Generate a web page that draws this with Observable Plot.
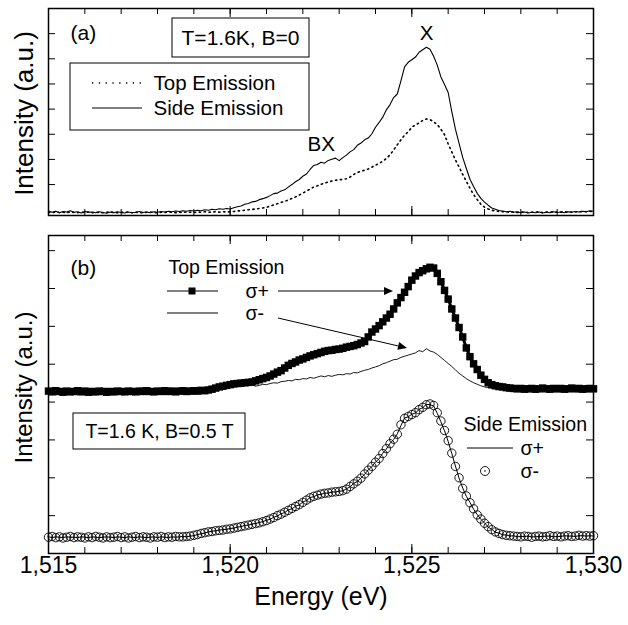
<!DOCTYPE html>
<html><head><meta charset="utf-8">
<script src="https://cdn.jsdelivr.net/npm/d3@7"></script>
<script src="https://cdn.jsdelivr.net/npm/@observablehq/plot@0.6"></script>
<style>body{margin:0;background:#fff;overflow:hidden} #chart svg{display:block}</style>
</head><body><div id="chart"></div>
<script>
// Energy grid (eV), shared by all spectra
const energy = [
1.5150,1.5151,1.5152,1.5153,1.5154,1.5155,1.5156,1.5157,1.5158,1.5159,
1.5160,1.5161,1.5162,1.5163,1.5164,1.5165,1.5166,1.5167,1.5168,1.5169,
1.5170,1.5171,1.5172,1.5173,1.5174,1.5175,1.5176,1.5177,1.5178,1.5179,
1.5180,1.5181,1.5182,1.5183,1.5184,1.5185,1.5186,1.5187,1.5188,1.5189,
1.5190,1.5191,1.5192,1.5193,1.5194,1.5195,1.5196,1.5197,1.5198,1.5199,
1.5200,1.5201,1.5202,1.5203,1.5204,1.5205,1.5206,1.5207,1.5208,1.5209,
1.5210,1.5211,1.5212,1.5213,1.5214,1.5215,1.5216,1.5217,1.5218,1.5219,
1.5220,1.5221,1.5222,1.5223,1.5224,1.5225,1.5226,1.5227,1.5228,1.5229,
1.5230,1.5231,1.5232,1.5233,1.5234,1.5235,1.5236,1.5237,1.5238,1.5239,
1.5240,1.5241,1.5242,1.5243,1.5244,1.5245,1.5246,1.5247,1.5248,1.5249,
1.5250,1.5251,1.5252,1.5253,1.5254,1.5255,1.5256,1.5257,1.5258,1.5259,
1.5260,1.5261,1.5262,1.5263,1.5264,1.5265,1.5266,1.5267,1.5268,1.5269,
1.5270,1.5271,1.5272,1.5273,1.5274,1.5275,1.5276,1.5277,1.5278,1.5279,
1.5280,1.5281,1.5282,1.5283,1.5284,1.5285,1.5286,1.5287,1.5288,1.5289,
1.5290,1.5291,1.5292,1.5293,1.5294,1.5295,1.5296,1.5297,1.5298,1.5299,
1.5300];

// Panel (a): B=0
const sideEmissionA = [
-0.05,-0.10,-0.06,-0.12,-0.07,-0.09,-0.04,-0.10,-0.08,-0.13,
-0.07,-0.10,-0.09,-0.12,-0.08,-0.11,-0.14,-0.09,-0.12,-0.08,
-0.11,-0.13,-0.09,-0.12,-0.10,-0.07,-0.11,-0.09,-0.12,-0.08,
-0.10,-0.07,-0.09,-0.06,-0.08,-0.05,-0.07,-0.04,-0.06,-0.03,
-0.05,-0.02,-0.04,0.00,-0.02,0.02,0.00,0.04,0.02,0.05,
0.03,0.08,0.12,0.15,0.22,0.25,0.31,0.33,0.40,0.44,
0.49,0.56,0.64,0.66,0.74,0.79,0.90,1.00,1.11,1.20,
1.33,1.42,1.60,1.76,1.80,1.89,1.85,1.96,2.01,2.05,
1.95,2.07,2.17,2.30,2.39,2.56,2.65,2.78,2.85,3.02,
3.28,3.47,3.68,3.97,4.18,4.46,4.60,5.12,5.68,5.86,
5.96,6.07,6.26,6.36,6.46,6.38,6.10,5.75,5.28,4.98,
4.66,3.90,3.20,2.64,2.08,1.64,1.21,0.92,0.65,0.45,
0.30,0.18,0.07,0.02,-0.03,-0.05,-0.08,-0.06,-0.10,-0.08,
-0.12,-0.09,-0.13,-0.10,-0.12,-0.09,-0.13,-0.10,-0.12,-0.08,
-0.11,-0.09,-0.12,-0.08,-0.10,-0.07,-0.09,-0.06,-0.08,-0.04,
-0.06];
const topEmissionA = [
-0.10,-0.12,-0.09,-0.11,-0.10,-0.12,-0.09,-0.11,-0.12,-0.10,
-0.11,-0.09,-0.12,-0.10,-0.11,-0.12,-0.10,-0.09,-0.11,-0.12,
-0.10,-0.11,-0.09,-0.12,-0.10,-0.11,-0.12,-0.10,-0.09,-0.11,
-0.12,-0.10,-0.11,-0.09,-0.10,-0.12,-0.10,-0.11,-0.09,-0.10,
-0.11,-0.09,-0.10,-0.08,-0.10,-0.09,-0.08,-0.10,-0.08,-0.09,
-0.08,-0.07,-0.05,-0.04,-0.02,0.00,0.01,0.03,0.05,0.07,
0.10,0.14,0.19,0.24,0.29,0.33,0.39,0.45,0.51,0.58,
0.66,0.74,0.82,0.90,0.95,1.01,1.06,1.10,1.14,1.17,
1.19,1.21,1.23,1.30,1.40,1.48,1.53,1.57,1.62,1.69,
1.77,1.84,1.93,2.04,2.18,2.38,2.58,2.78,2.96,3.10,
3.28,3.37,3.45,3.55,3.61,3.58,3.50,3.38,3.20,2.98,
2.62,2.30,1.98,1.70,1.40,1.13,0.85,0.60,0.40,0.22,
0.10,0.03,-0.02,-0.05,-0.07,-0.08,-0.09,-0.10,-0.09,-0.11,
-0.10,-0.09,-0.11,-0.10,-0.09,-0.10,-0.11,-0.09,-0.10,-0.08,
-0.10,-0.09,-0.08,-0.10,-0.09,-0.08,-0.09,-0.07,-0.08,-0.07,
-0.07];

// Panel (b): B=0.5 T
const topSigmaPlus = [
4.29,4.27,4.30,4.28,4.26,4.29,4.27,4.28,4.30,4.27,
4.29,4.26,4.28,4.27,4.29,4.28,4.26,4.28,4.27,4.29,
4.28,4.27,4.29,4.28,4.27,4.29,4.28,4.30,4.28,4.27,
4.29,4.28,4.30,4.28,4.29,4.27,4.29,4.30,4.28,4.29,
4.30,4.29,4.31,4.30,4.32,4.34,4.37,4.40,4.42,4.44,
4.46,4.48,4.49,4.50,4.51,4.52,4.53,4.56,4.59,4.62,
4.65,4.69,4.74,4.79,4.83,4.90,4.97,5.02,5.06,5.11,
5.14,5.18,5.22,5.25,5.28,5.31,5.34,5.36,5.37,5.39,
5.40,5.42,5.45,5.47,5.49,5.52,5.56,5.60,5.72,5.85,
5.93,6.02,6.12,6.22,6.32,6.46,6.62,6.76,6.90,7.05,
7.22,7.33,7.42,7.47,7.52,7.56,7.54,7.40,7.18,6.95,
6.72,6.46,6.22,5.97,5.72,5.43,5.20,5.01,4.86,4.71,
4.60,4.51,4.46,4.43,4.41,4.40,4.38,4.37,4.36,4.35,
4.36,4.34,4.35,4.36,4.34,4.35,4.37,4.35,4.34,4.36,
4.35,4.36,4.34,4.35,4.37,4.35,4.36,4.34,4.35,4.36,
4.35];
const topSigmaMinus = [
4.27,4.29,4.26,4.28,4.30,4.27,4.28,4.26,4.29,4.28,
4.27,4.29,4.28,4.26,4.28,4.30,4.27,4.28,4.29,4.27,
4.28,4.26,4.29,4.28,4.27,4.29,4.28,4.26,4.28,4.29,
4.27,4.28,4.29,4.27,4.28,4.30,4.28,4.27,4.29,4.28,
4.29,4.28,4.30,4.29,4.28,4.30,4.30,4.33,4.35,4.37,
4.38,4.40,4.42,4.41,4.44,4.43,4.45,4.42,4.44,4.47,
4.46,4.49,4.51,4.50,4.54,4.55,4.57,4.56,4.60,4.59,
4.62,4.61,4.65,4.63,4.66,4.69,4.67,4.70,4.68,4.71,
4.73,4.72,4.75,4.74,4.78,4.77,4.81,4.84,4.86,4.90,
4.93,4.96,5.01,5.04,5.08,5.12,5.13,5.18,5.21,5.24,
5.27,5.30,5.36,5.33,5.41,5.35,5.32,5.26,5.18,5.10,
5.02,4.94,4.85,4.76,4.69,4.62,4.56,4.51,4.47,4.43,
4.40,4.38,4.37,4.36,4.35,4.35,4.34,4.36,4.35,4.34,
4.35,4.36,4.34,4.35,4.36,4.35,4.34,4.36,4.35,4.34,
4.36,4.35,4.34,4.35,4.36,4.34,4.35,4.36,4.35,4.34,
4.35];
const sideSigmaPlus = [
0.44,0.42,0.44,0.43,0.42,0.44,0.43,0.43,0.42,0.44,
0.43,0.42,0.44,0.43,0.42,0.43,0.44,0.43,0.42,0.44,
0.43,0.42,0.44,0.43,0.42,0.44,0.43,0.42,0.43,0.44,
0.42,0.44,0.43,0.42,0.44,0.43,0.44,0.45,0.44,0.46,
0.47,0.50,0.52,0.54,0.57,0.59,0.60,0.62,0.63,0.64,
0.66,0.67,0.70,0.71,0.74,0.75,0.78,0.79,0.82,0.84,
0.88,0.90,0.96,0.99,1.05,1.08,1.15,1.18,1.25,1.28,
1.36,1.40,1.48,1.50,1.55,1.56,1.60,1.59,1.63,1.62,
1.65,1.65,1.71,1.76,1.85,1.90,2.00,2.09,2.21,2.29,
2.42,2.50,2.65,2.76,2.91,3.01,3.16,3.38,3.58,3.61,
3.68,3.71,3.81,3.85,3.94,3.93,3.90,3.70,3.48,3.24,
2.96,2.64,2.31,1.99,1.73,1.51,1.35,1.17,1.03,0.90,
0.81,0.70,0.64,0.56,0.54,0.49,0.49,0.46,0.47,0.44,
0.45,0.45,0.46,0.44,0.44,0.45,0.45,0.46,0.46,0.44,
0.45,0.45,0.47,0.46,0.46,0.45,0.47,0.47,0.46,0.47,
0.46];
const sideSigmaMinus = [
0.43,0.45,0.42,0.44,0.41,0.43,0.45,0.42,0.44,0.43,
0.41,0.44,0.42,0.45,0.43,0.41,0.44,0.42,0.43,0.45,
0.42,0.44,0.41,0.43,0.45,0.42,0.44,0.43,0.41,0.44,
0.43,0.45,0.42,0.44,0.43,0.45,0.44,0.44,0.45,0.46,
0.48,0.50,0.53,0.55,0.57,0.58,0.60,0.61,0.62,0.64,
0.65,0.67,0.69,0.71,0.73,0.75,0.77,0.79,0.81,0.84,
0.87,0.91,0.95,1.00,1.04,1.09,1.14,1.19,1.24,1.29,
1.35,1.41,1.47,1.51,1.54,1.57,1.59,1.60,1.62,1.63,
1.64,1.66,1.70,1.77,1.84,1.91,1.99,2.10,2.20,2.30,
2.41,2.51,2.64,2.77,2.90,3.02,3.15,3.40,3.57,3.62,
3.67,3.72,3.80,3.86,3.93,3.95,3.91,3.72,3.50,3.25,
2.98,2.65,2.30,2.00,1.72,1.52,1.34,1.18,1.02,0.91,
0.80,0.71,0.63,0.57,0.53,0.50,0.48,0.47,0.46,0.45,
0.44,0.46,0.45,0.43,0.45,0.46,0.44,0.45,0.47,0.45,
0.46,0.44,0.46,0.47,0.45,0.46,0.48,0.46,0.47,0.46,
0.47];

// Ticks and labels
const xMinorTicks = [1.515,1.516,1.517,1.518,1.519,1.520,1.521,1.522,1.523,1.524,1.525,1.526,1.527,1.528,1.529,1.530];
const xMajorTicks = [1.515,1.520,1.525,1.530];
const xTickLabels = ["1,515","1,520","1,525","1,530"];
const yTicksA = [1,2,3,4,5,6,7];
const yTicksB = [1,2,3,4,5,6,7,8];

const FONT = "'Liberation Sans', Arial, Helvetica, sans-serif";
const W = 628, ML = 48, MR = 35, FW = W - ML - MR;

const rowsA = energy.map((e, i) => ({e, side: sideEmissionA[i], top: topEmissionA[i]}));
const rowsB = energy.map((e, i) => ({e, tp: topSigmaPlus[i], tm: topSigmaMinus[i], sp: sideSigmaPlus[i], sm: sideSigmaMinus[i]}));

function tickMarks(fh, yt) {
  const st = {stroke: "black", strokeWidth: 1};
  return [
    Plot.ruleX(xMinorTicks, {x: d => d, insetTop: fh - 6, ...st}),
    Plot.ruleX(xMinorTicks, {x: d => d, insetBottom: fh - 6, ...st}),
    Plot.ruleX(xMajorTicks, {x: d => d, insetTop: fh - 9, ...st}),
    Plot.ruleX(xMajorTicks, {x: d => d, insetBottom: fh - 9, ...st}),
    Plot.ruleY(yt, {y: d => d, insetRight: FW - 7, ...st}),
    Plot.ruleY(yt, {y: d => d, insetLeft: FW - 7, ...st})
  ];
}
const txt = (s, o) => Plot.text([s], {frameAnchor: "top-left", textAnchor: "start", lineAnchor: "middle", fill: "black", ...o});

// ---------- Panel (a)
const HA = 230, MTA = 8, MBA = 15, FHA = HA - MTA - MBA;
const plotA = Plot.plot({
  width: W, height: HA, marginLeft: ML, marginRight: MR, marginTop: MTA, marginBottom: MBA,
  x: {domain: [1.515, 1.530], axis: null},
  y: {domain: [-0.23, 8.0], axis: null},
  style: {fontFamily: FONT, background: "white", color: "black"},
  marks: [
    Plot.line(rowsA, {x: "e", y: "top", stroke: "black", strokeWidth: 1.6, strokeDasharray: "1.3,3.6"}),
    Plot.line(rowsA, {x: "e", y: "side", stroke: "black", strokeWidth: 1.1}),
    ...tickMarks(FHA, yTicksA),
    Plot.frame({stroke: "black", strokeWidth: 1.5}),
    Plot.text(["Intensity (a.u.)"], {frameAnchor: "left", rotate: -90, textAnchor: "middle", lineAnchor: "middle", dx: -24, dy: 1.5, fontSize: 26, fill: "black"}),
    txt("(a)", {dx: 22, dy: 25, fontSize: 21}),
    txt("T=1.6K, B=0", {dx: 192, dy: 30, fontSize: 21, textAnchor: "middle"}),
    txt("Top Emission", {dx: 105, dy: 75, fontSize: 20.5}),
    txt("Side Emission", {dx: 105, dy: 100, fontSize: 20.5}),
    txt("BX", {dx: 259, dy: 135.5, fontSize: 20.5}),
    txt("X", {dx: 378, dy: 25, fontSize: 20.5, textAnchor: "middle"})
  ]
});
{
  const s = d3.select(plotA);
  s.append("rect").attr("x", 172).attr("y", 18).attr("width", 137).attr("height", 39)
    .attr("fill", "none").attr("stroke", "black").attr("stroke-width", 1);
  s.append("rect").attr("x", 70).attr("y", 63).attr("width", 239).attr("height", 67)
    .attr("fill", "none").attr("stroke", "black").attr("stroke-width", 1);
  s.append("line").attr("x1", 92).attr("x2", 142).attr("y1", 83).attr("y2", 83)
    .attr("stroke", "black").attr("stroke-width", 1.6).attr("stroke-dasharray", "1.3,5.5");
  s.append("line").attr("x1", 92).attr("x2", 142).attr("y1", 108).attr("y2", 108)
    .attr("stroke", "black").attr("stroke-width", 1.1);
}

// ---------- Panel (b)
const HB = 395, MTB = 5, MBB = 72, FHB = HB - MTB - MBB;
const plotB = Plot.plot({
  width: W, height: HB, marginLeft: ML, marginRight: MR, marginTop: MTB, marginBottom: MBB,
  x: {domain: [1.515, 1.530], axis: null},
  y: {domain: [0, 8.4], axis: null},
  style: {fontFamily: FONT, background: "white", color: "black"},
  marks: [
    Plot.line(rowsB, {x: "e", y: "sp", stroke: "black", strokeWidth: 1}),
    Plot.dot(rowsB, {x: "e", y: "sm", r: 4.2, stroke: "black", strokeWidth: 0.9, fill: "none"}),
    Plot.line(rowsB, {x: "e", y: "tm", stroke: "black", strokeWidth: 0.9}),
    Plot.line(rowsB, {x: "e", y: "tp", stroke: "black", strokeWidth: 3}),
    Plot.dot(rowsB, {x: "e", y: "tp", symbol: "square", r: 4.2, fill: "black", stroke: "none"}),
    ...tickMarks(FHB, yTicksB),
    Plot.frame({stroke: "black", strokeWidth: 1.5}),
    Plot.text(xMajorTicks, {x: d => d, frameAnchor: "bottom", dy: 19, text: (d, i) => xTickLabels[i], fontSize: 23, fill: "black"}),
    Plot.text(["Energy (eV)"], {frameAnchor: "bottom", dy: 51, fontSize: 25, fill: "black"}),
    Plot.text(["Intensity (a.u.)"], {frameAnchor: "left", rotate: -90, textAnchor: "middle", lineAnchor: "middle", dx: -24, dy: -7, fontSize: 24, fill: "black"}),
    txt("(b)", {dx: 22, dy: 33, fontSize: 21}),
    txt("Top Emission", {dx: 120, dy: 32, fontSize: 19.5}),
    txt("σ+", {dx: 197, dy: 56, fontSize: 19.5}),
    txt("σ-", {dx: 197, dy: 78, fontSize: 19.5}),
    txt("T=1.6 K, B=0.5 T", {dx: 111, dy: 196, fontSize: 19.5, textAnchor: "middle"}),
    txt("Side Emission", {dx: 415, dy: 189, fontSize: 19.5}),
    txt("σ+", {dx: 472, dy: 213, fontSize: 19.5}),
    txt("σ-", {dx: 472, dy: 236, fontSize: 19.5})
  ]
});
{
  const s = d3.select(plotB);
  const line = (x1, y1, x2, y2, w) => s.append("line").attr("x1", x1).attr("y1", y1).attr("x2", x2).attr("y2", y2)
    .attr("stroke", "black").attr("stroke-width", w);
  const arrow = (x1, y1, x2, y2) => {
    const L = 9, H = 4, dx = x2 - x1, dy = y2 - y1, len = Math.hypot(dx, dy);
    const ux = dx / len, uy = dy / len, bx = x2 - ux * L, by = y2 - uy * L;
    line(x1, y1, bx, by, 1);
    s.append("path").attr("d", `M${x2},${y2}L${bx - uy * H},${by + ux * H}L${bx + uy * H},${by - ux * H}Z`).attr("fill", "black");
  };
  line(167, 61, 218, 61, 1);
  s.append("rect").attr("x", 188.5).attr("y", 57.5).attr("width", 7).attr("height", 7).attr("fill", "black");
  line(167, 83, 218, 83, 1);
  arrow(278, 61, 393, 61);
  arrow(278, 88, 407, 118);
  s.append("rect").attr("x", 73).attr("y", 183).attr("width", 172).attr("height", 36)
    .attr("fill", "none").attr("stroke", "black").attr("stroke-width", 1);
  line(467, 218, 513, 218, 1);
  s.append("circle").attr("cx", 485).attr("cy", 241).attr("r", 4.5).attr("fill", "none").attr("stroke", "black").attr("stroke-width", 0.9);
  s.append("circle").attr("cx", 485).attr("cy", 241).attr("r", 0.8).attr("fill", "black");
}

const chart = document.getElementById("chart");
chart.appendChild(plotA);
chart.appendChild(plotB);
</script>
</body></html>
